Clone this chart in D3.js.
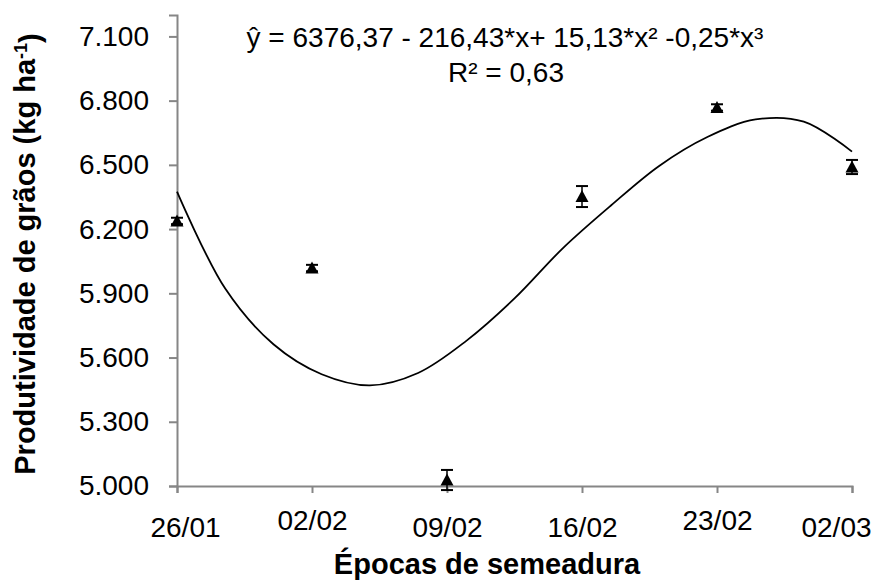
<!DOCTYPE html>
<html>
<head>
<meta charset="utf-8">
<script src="https://cdn.jsdelivr.net/npm/d3@7"></script>
<style>
  body { margin: 0; background: #fff; }
  svg { font-family: "Liberation Sans", Arial, sans-serif; }
</style>
</head>
<body>
<svg id="chart" width="875" height="583"></svg>
<script>
// épocas de semeadura (dias após 26/01)
const epocas = ["26/01", "02/02", "09/02", "16/02", "23/02", "02/03"];
const dias = [0, 7, 14, 21, 28, 35];
const produtividade = [6238, 6018, 5028, 6352, 6768, 6490];
const erro = [15, 15, 47, 49, 15, 33];

// curva de regressão
const curvaDias = [0, 2.5, 5, 7.5, 10, 12.5, 15, 17.5, 20, 22.5, 25, 27.5, 30, 32.5, 35];
const curvaValores = [6375, 5922, 5662, 5522, 5470, 5528, 5678, 5876, 6110, 6310, 6495, 6630, 6712, 6702, 6562];

const yTicks = [5000, 5300, 5600, 5900, 6200, 6500, 6800, 7100];

const svg = d3.select("#chart");
const axisColor = "#868686";

const x = d3.scaleLinear().domain([0, 35]).range([177, 852]);
const y = d3.scaleLinear().domain([5000, 7200]).range([486, 15]);

const fmt = d => d3.format(",")(d).replace(",", ".");

// eixo y
let gy = svg.append("g")
    .attr("transform", "translate(" + x(0) + ",0)")
    .call(d3.axisLeft(y).tickValues(yTicks).tickSize(8).tickPadding(20).tickFormat(fmt));
gy.select(".domain").attr("stroke", axisColor).attr("stroke-width", 2);
gy.selectAll(".tick line").attr("stroke", axisColor).attr("stroke-width", 2);
gy.selectAll(".tick text")
    .attr("fill", "#000")
    .style("font-size", "28px");

// eixo x
let gx = svg.append("g")
    .attr("transform", "translate(0," + y(5000) + ")")
    .call(d3.axisBottom(x).tickValues(dias).tickSize(7).tickPadding(24)
        .tickFormat((d, i) => epocas[i]));
gx.select(".domain").attr("stroke", axisColor).attr("stroke-width", 2);
gx.selectAll(".tick line").attr("stroke", axisColor).attr("stroke-width", 2);
gx.selectAll(".tick text")
    .attr("fill", "#000")
    .style("font-size", "28px")
    .attr("dy", (d, i) => (i === 1 || i === 4) ? "0.45em" : "0.71em")
    .attr("dx", (d, i) => i === 0 ? 8 : (i === 5 ? -16 : 0));

// curva
const linha = d3.line()
    .x((d, i) => x(curvaDias[i]))
    .y(d => y(d))
    .curve(d3.curveCatmullRom);

svg.append("path")
    .attr("d", linha(curvaValores))
    .attr("fill", "none")
    .attr("stroke", "#000")
    .attr("stroke-width", 1.8);

// barras de erro
let barras = svg.append("g");
produtividade.forEach(function (v, i) {
    let cx = x(dias[i]);
    barras.append("line")
        .attr("x1", cx).attr("x2", cx)
        .attr("y1", y(v - erro[i])).attr("y2", y(v + erro[i]))
        .attr("stroke", "#000").attr("stroke-width", 1.5);
    [v - erro[i], v + erro[i]].forEach(function (e) {
        barras.append("line")
            .attr("x1", cx - 6).attr("x2", cx + 6)
            .attr("y1", y(e)).attr("y2", y(e))
            .attr("stroke", "#000").attr("stroke-width", 2);
    });
});

// marcadores triangulares
svg.append("g").selectAll("path")
    .data(produtividade)
    .join("path")
    .attr("d", "M0,-6.5L6.5,5.5L-6.5,5.5Z")
    .attr("transform", (d, i) => "translate(" + x(dias[i]) + "," + y(d) + ")")
    .attr("fill", "#000");

// equação
svg.append("text")
    .attr("x", 505).attr("y", 47)
    .attr("text-anchor", "middle")
    .style("font-size", "28px")
    .text("ŷ = 6376,37 - 216,43*x+ 15,13*x² -0,25*x³");

svg.append("text")
    .attr("x", 506).attr("y", 82)
    .attr("text-anchor", "middle")
    .style("font-size", "28px")
    .text("R² = 0,63");

// títulos dos eixos
svg.append("text")
    .attr("x", 487).attr("y", 574)
    .attr("text-anchor", "middle")
    .style("font-size", "29px")
    .style("font-weight", "bold")
    .text("Épocas de semeadura");

let ty = svg.append("text")
    .attr("transform", "translate(35,254) rotate(-90)")
    .attr("text-anchor", "middle")
    .style("font-size", "29px")
    .style("font-weight", "bold");
ty.append("tspan").text("Produtividade de grãos (kg ha");
ty.append("tspan").attr("dy", "-0.45em").style("font-size", "18px").text("-1");
ty.append("tspan").attr("dy", "0.45em").text(")");
</script>
</body>
</html>
